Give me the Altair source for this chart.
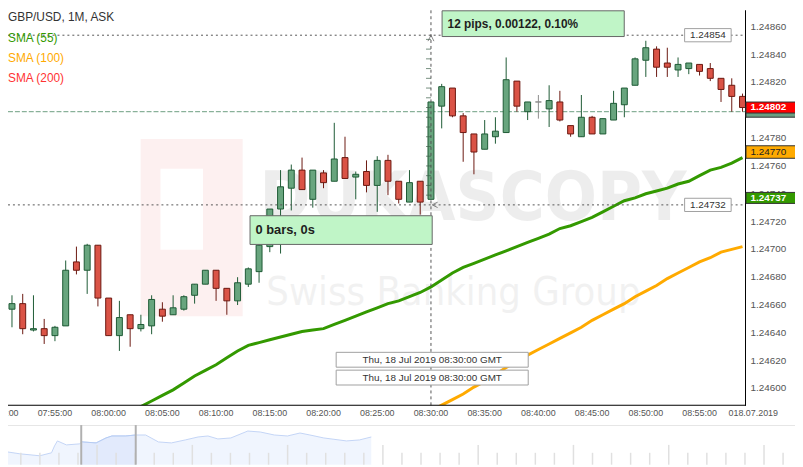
import altair as alt
import numpy as np
import pandas as pd

# ---------------- data ----------------
SYMBOL = "GBP/USD, 1M, ASK"
legend_labels = ["SMA (55)", "SMA (100)", "SMA (200)"]
watermark = ["DUKASCOPY", "Swiss Banking Group"]

times = ["07:51", "07:52", "07:53", "07:54", "07:55", "07:56", "07:57", "07:58", "07:59",
         "08:00", "08:01", "08:02", "08:03", "08:04", "08:05", "08:06", "08:07", "08:08", "08:09",
         "08:10", "08:11", "08:12", "08:13", "08:14", "08:15", "08:16", "08:17", "08:18", "08:19",
         "08:20", "08:21", "08:22", "08:23", "08:24", "08:25", "08:26", "08:27", "08:28", "08:29",
         "08:30", "08:31", "08:32", "08:33", "08:34", "08:35", "08:36", "08:37", "08:38", "08:39",
         "08:40", "08:41", "08:42", "08:43", "08:44", "08:45", "08:46", "08:47", "08:48", "08:49",
         "08:50", "08:51", "08:52", "08:53", "08:54", "08:55", "08:56", "08:57", "08:58", "08:59"]

opens = [1.24657, 1.24661, 1.24642, 1.24643, 1.24638, 1.24645, 1.24691, 1.24685, 1.24703,
         1.24665, 1.24638, 1.24653, 1.24643, 1.24645, 1.24657, 1.24653, 1.24657, 1.24667, 1.24675,
         1.24685, 1.24672, 1.24663, 1.24675, 1.24684, 1.24702, 1.24729, 1.24744, 1.24757, 1.24736,
         1.24755, 1.24749, 1.24766, 1.24752, 1.24756, 1.24746, 1.24764, 1.24749, 1.24734, 1.24749,
         1.24736, 1.24803, 1.24816, 1.24796, 1.24783, 1.24772, 1.24781, 1.24784, 1.24821, 1.24799,
         1.24806, 1.24801, 1.24806, 1.24789, 1.24781, 1.24795, 1.24783, 1.24793, 1.24804, 1.24818,
         1.24836, 1.24844, 1.24834, 1.24829, 1.24830, 1.24833, 1.24830, 1.24823, 1.24818, 1.24810]
highs = [1.24667, 1.24668, 1.24667, 1.24650, 1.24645, 1.24692, 1.24702, 1.24704, 1.24703,
         1.24665, 1.24663, 1.24653, 1.24653, 1.24667, 1.24662, 1.24667, 1.24667, 1.24675, 1.24685,
         1.24685, 1.24672, 1.24680, 1.24687, 1.24704, 1.24729, 1.24757, 1.24761, 1.24766, 1.24757,
         1.24757, 1.24791, 1.24781, 1.24756, 1.24764, 1.24767, 1.24768, 1.24749, 1.24757, 1.24749,
         1.24806, 1.24819, 1.24816, 1.24798, 1.24783, 1.24793, 1.24795, 1.24838, 1.24821, 1.24806,
         1.24811, 1.24818, 1.24814, 1.24789, 1.24811, 1.24796, 1.24794, 1.24814, 1.24816, 1.24838,
         1.24850, 1.24846, 1.24845, 1.24838, 1.24834, 1.24833, 1.24834, 1.24823, 1.24823, 1.24812]
lows = [1.24644, 1.24639, 1.24641, 1.24632, 1.24634, 1.24645, 1.24682, 1.24668, 1.24659,
        1.24638, 1.24627, 1.24630, 1.24641, 1.24639, 1.24648, 1.24653, 1.24656, 1.24661, 1.24675,
        1.24663, 1.24653, 1.24660, 1.24673, 1.24676, 1.24698, 1.24697, 1.24728, 1.24743, 1.24730,
        1.24744, 1.24749, 1.24751, 1.24736, 1.24741, 1.24727, 1.24739, 1.24733, 1.24734, 1.24725,
        1.24736, 1.24787, 1.24795, 1.24763, 1.24754, 1.24772, 1.24776, 1.24784, 1.24799, 1.24793,
        1.24794, 1.24788, 1.24792, 1.24781, 1.24781, 1.24783, 1.24783, 1.24793, 1.24795, 1.24818,
        1.24824, 1.24824, 1.24824, 1.24824, 1.24826, 1.24825, 1.24821, 1.24806, 1.24799, 1.24799]
closes = [1.24661, 1.24643, 1.24643, 1.24638, 1.24644, 1.24685, 1.24685, 1.24703, 1.24665,
          1.24638, 1.24651, 1.24643, 1.24646, 1.24664, 1.24652, 1.24658, 1.24666, 1.24675, 1.24685,
          1.24672, 1.24663, 1.24676, 1.24686, 1.24703, 1.24729, 1.24745, 1.24757, 1.24743, 1.24757,
          1.24748, 1.24765, 1.24751, 1.24754, 1.24746, 1.24764, 1.24749, 1.24736, 1.24748, 1.24734,
          1.24806, 1.24817, 1.24796, 1.24784, 1.24770, 1.24783, 1.24785, 1.24822, 1.24803, 1.24806,
          1.24806, 1.24807, 1.24793, 1.24783, 1.24795, 1.24783, 1.24794, 1.24805, 1.24816, 1.24837,
          1.24845, 1.24831, 1.24831, 1.24833, 1.24834, 1.24828, 1.24823, 1.24815, 1.24810, 1.24802]

# SMA values aligned with `times` (None = not visible / off the chart)
sma55 = [None] * 11 + [
    1.24583, 1.24587, 1.24591, 1.24595, 1.24599, 1.24604, 1.24609, 1.24613,
    1.24617, 1.24622, 1.24627, 1.24631, 1.24633, 1.24635, 1.24637, 1.24639, 1.24641, 1.24642,
    1.24643, 1.24646, 1.24649, 1.24652, 1.24655, 1.24658, 1.24661, 1.24663, 1.24666, 1.24669,
    1.24673, 1.24678, 1.24683, 1.24687, 1.24690, 1.24693, 1.24696, 1.24699, 1.24702, 1.24705,
    1.24708, 1.24711, 1.24715, 1.24717, 1.24720, 1.24723, 1.24727, 1.24731, 1.24735, 1.24737,
    1.24740, 1.24742, 1.24744, 1.24747, 1.24749, 1.24753, 1.24757, 1.24759, 1.24762, 1.24766]
sma100 = [None] * 39 + [
    1.24584, 1.24588, 1.24592, 1.24596, 1.24601, 1.24605, 1.24610, 1.24615, 1.24620, 1.24624,
    1.24628, 1.24632, 1.24636, 1.24640, 1.24644, 1.24649, 1.24653, 1.24657, 1.24661, 1.24666,
    1.24670, 1.24674, 1.24679, 1.24683, 1.24687, 1.24691, 1.24694, 1.24698, 1.24700, 1.24702]

y_ticks = [1.24600, 1.24620, 1.24640, 1.24660, 1.24680, 1.24700, 1.24720,
           1.24740, 1.24760, 1.24780, 1.24800, 1.24820, 1.24840, 1.24860]
x_ticks = ["07:50", "07:55", "08:00", "08:05", "08:10", "08:15", "08:20", "08:25",
           "08:30", "08:35", "08:40", "08:45", "08:50", "08:55", "09:00"]
x_tick_labels = ["07:50:00", "07:55:00", "08:00:00", "08:05:00", "08:10:00", "08:15:00",
                 "08:20:00", "08:25:00", "08:30:00", "08:35:00", "08:40:00", "08:45:00",
                 "08:50:00", "08:55:00", "018.07.2019"]

ask_price = 1.24802
bid_price = 1.24799
sma100_tag = 1.24770
sma55_tag = 1.24737
measure_lo = 1.24732
measure_hi = 1.24854
measure_text = "12 pips, 0.00122, 0.10%"
bars_text = "0 bars, 0s"
cursor_time = "08:30"
cursor_text = "Thu, 18 Jul 2019 08:30:00 GMT"

# navigator (overview strip): position in navigator tick units, level
nav_x = [-0.09, 0.95, 1.99, 2.61, 2.77, 2.92, 3.39, 4.07, 4.22, 4.95, 5.47, 5.78, 6.51, 7.03,
         7.55, 8.22, 8.90, 9.63, 10.30, 10.82, 11.34, 12.02, 12.91, 13.57, 14.30, 14.99,
         15.65, 16.17, 16.90, 18.09, 18.77, 19.39]
nav_v = [14, 11, 9, 12, 19, 24, 20, 21, 23, 22, 27, 29, 29, 30, 30, 23, 22, 25, 28, 29, 26,
         27, 34, 33, 30, 29, 32, 30, 27, 24, 25, 28]
nav_sel_x = [4.17, 4.22, 4.95, 5.47, 5.78, 6.51, 7.03]
nav_sel_v = [22.5, 23, 22, 27, 29, 29, 30]
nav_handles = [4.17, 7.03]
nav_ticks = list(range(0, 42))

# ---------------- layout / styling ----------------
W, H = 745, 399
X_DOM = [-8.909, 58.818]
Y_DOM = [1.245879, 1.248719]
xs = alt.Scale(domain=X_DOM, nice=False, zero=False)
ys = alt.Scale(domain=Y_DOM, nice=False, zero=False)
FONT = "Liberation Sans"
NARROW = "'Liberation Sans Narrow', 'DejaVu Sans Condensed', 'Liberation Sans'"
NAV_X0, NAV_DX, NAV_BASE = 0.327, 19.25, 459


def tmin(s):
    h, m = s.split(":")
    return (int(h) - 8) * 60 + int(m)


def one(**cols):
    return pd.DataFrame({k: [v] for k, v in cols.items()})


def pix_rect(x1, x2, y1, y2, **mk):
    return alt.Chart(one(a=0)).mark_rect(**mk).encode(
        x=alt.value(x1), x2=alt.value(x2), y=alt.value(y1), y2=alt.value(y2))


def pix_text(s, x, y, **mk):
    return alt.Chart(one(s=s)).mark_text(font=FONT, **mk).encode(
        x=alt.value(x), y=alt.value(y), text="s:N")


def price_box(p, half, x1, x2, **mk):
    return alt.Chart(one(lo=p - half, hi=p + half)).mark_rect(**mk).encode(
        x=alt.value(x1), x2=alt.value(x2),
        y=alt.Y("lo:Q", scale=ys, axis=None), y2="hi:Q")


def price_text(s, p, x, **mk):
    return alt.Chart(one(s=s, p=p)).mark_text(font=FONT, baseline="middle", **mk).encode(
        x=alt.value(x), y=alt.Y("p:Q", scale=ys, axis=None), text="s:N")


X = lambda f="t", axis=None: alt.X(f"{f}:Q", scale=xs, axis=axis)
Y = lambda f, axis=None: alt.Y(f"{f}:Q", scale=ys, axis=axis)

# grid only from the axes; labels and frame are drawn as marks below
x_grid = alt.Axis(values=[tmin(s) for s in x_ticks], grid=True, gridColor="#e6e6e6",
                  labels=False, ticks=False, domain=False, title=None)
y_grid = alt.Axis(orient="right", values=y_ticks, grid=True, gridColor="#e6e6e6",
                  labels=False, ticks=False, domain=False, title=None)

# ---------------- tables ----------------
candles = pd.DataFrame({"t": [tmin(s) for s in times], "o": opens, "h": highs,
                        "l": lows, "c": closes})
candles["dir"] = np.where(candles.c > candles.o, "up",
                          np.where(candles.c < candles.o, "down", "flat"))
sma_df = pd.DataFrame({"t": [tmin(s) for s in times], "s55": sma55, "s100": sma100})
s55 = sma_df.dropna(subset=["s55"])
s100 = sma_df.dropna(subset=["s100"])
ylab_df = pd.DataFrame({"p": y_ticks, "s": [f"{v:.5f}" for v in y_ticks]})
xlab_df = pd.DataFrame({"t": [tmin(s) for s in x_ticks], "s": x_tick_labels})

DIRS = ["up", "down", "flat"]
fill_scale = alt.Scale(domain=DIRS, range=["#68a57e", "#da5346", "#8c8c8c"])
stroke_scale = alt.Scale(domain=DIRS, range=["#1d5a35", "#6b1810", "#8c8c8c"])

# ---------------- layers ----------------
layers = []

cbase = alt.Chart(candles)
candle_wicks = cbase.mark_rule(strokeWidth=1, clip=True).encode(
    x=X("t", x_grid), y=Y("l", y_grid), y2="h:Q",
    stroke=alt.Stroke("dir:N", scale=stroke_scale, legend=None))
candle_bodies = cbase.mark_bar(size=6, strokeWidth=1, clip=True).encode(
    x=X("t"), y=Y("o"), y2="c:Q",
    fill=alt.Fill("dir:N", scale=fill_scale, legend=None),
    stroke=alt.Stroke("dir:N", scale=stroke_scale, legend=None))

# faint watermark
PINK = dict(fill="#e83030", opacity=0.07, strokeWidth=0)
layers += [pix_rect(134, 154, 130, 309, **PINK), pix_rect(197, 237, 130, 309, **PINK),
           pix_rect(154, 197, 130, 160, **PINK), pix_rect(154, 197, 242, 309, **PINK)]
layers.append(alt.Chart(one(s=watermark[0])).mark_text(
    font=NARROW, fontSize=69, fontWeight="bold", align="left", baseline="alphabetic",
    color="#000000", opacity=0.065).encode(x=alt.value(254), y=alt.value(212), text="s:N"))
layers.append(alt.Chart(one(s=watermark[1])).mark_text(
    font=NARROW, fontSize=40, align="left", baseline="alphabetic",
    color="#000000", opacity=0.05).encode(x=alt.value(261), y=alt.value(298), text="s:N"))

# bid dashed line
layers.append(alt.Chart(one(p=bid_price)).mark_rule(
    color="#6b9e80", strokeDash=[5, 2], strokeWidth=1).encode(
    y=Y("p"), x=alt.value(0), x2=alt.value(W)))

# moving averages
layers.append(alt.Chart(s55).mark_line(color="#339900", strokeWidth=3, clip=True).encode(
    x=X("t"), y=Y("s55")))
layers.append(alt.Chart(s100).mark_line(color="#ffaa00", strokeWidth=3, clip=True).encode(
    x=X("t"), y=Y("s100")))

layers += [candle_wicks, candle_bodies]

# measurement tool: dotted levels, cursor line, ruler
layers.append(alt.Chart(pd.DataFrame({"p": [measure_hi, measure_lo]})).mark_rule(
    color="#555555", strokeDash=[2, 3], strokeWidth=1).encode(
    y=Y("p"), x=alt.value(0), x2=alt.value(W)))
layers.append(alt.Chart(one(t=tmin(cursor_time))).mark_rule(
    color="#555555", strokeDash=[3, 3], strokeWidth=1).encode(
    x=X("t"), y=alt.value(0), y2=alt.value(H)))
ruler = pd.DataFrame({"t": tmin(cursor_time),
                      "p": np.arange(measure_lo + 0.00007, measure_hi - 0.00003, 0.00007)})
layers.append(alt.Chart(ruler).mark_tick(orient="horizontal", size=5, thickness=1,
                                         color="#3b5e47", xOffset=-2.5).encode(
    x=X("t"), y=Y("p")))
layers.append(alt.Chart(one(t=tmin(cursor_time), p=measure_hi)).mark_point(
    shape="M-1,1L0,-1L1,1", filled=False, size=36, stroke="#555555", strokeWidth=1,
    yOffset=3).encode(x=X("t"), y=Y("p")))
layers.append(alt.Chart(one(t=tmin(cursor_time), p=measure_lo)).mark_point(
    shape="M1,-1L-1,0L1,1", filled=False, size=30, stroke="#555555", strokeWidth=1,
    xOffset=4).encode(x=X("t"), y=Y("p")))

# axis frame (right and bottom) and axis labels
layers.append(pix_rect(744.5, 745.5, 0, H + 0.5, fill="#000000", strokeWidth=0))
layers.append(pix_rect(0, 745.5, H - 0.5, H + 0.5, fill="#000000", strokeWidth=0))
layers.append(alt.Chart(ylab_df).mark_text(
    font=FONT, fontSize=10, color="#555555", align="left", baseline="middle").encode(
    x=alt.value(750), y=Y("p"), text="s:N"))
layers.append(alt.Chart(xlab_df).mark_text(
    font=FONT, fontSize=9, color="#555555", align="center", baseline="top").encode(
    x=X("t"), y=alt.value(H + 4), text="s:N"))

# measurement boxes
GREENBOX = dict(fill="#c0f5c7", stroke="#666666", strokeWidth=1)
layers.append(pix_rect(438.5, 622.5, 0.5, 26.5, **GREENBOX))
layers.append(pix_text(measure_text, 444, 13.5, align="left", baseline="middle",
                       fontSize=12, fontWeight="bold", color="#1e1e1e"))
layers.append(pix_rect(244.5, 428.5, 207.5, 236.5, **GREENBOX))
layers.append(pix_text(bars_text, 250, 222, align="left", baseline="middle",
                       fontSize=13, fontWeight="bold", color="#1e1e1e"))

# cursor time boxes
WHITEBOX = dict(fill="#ffffff", stroke="#a0a0a0", strokeWidth=1)
for y1, y2 in [(345.5, 360.5), (363.5, 378.5)]:
    layers.append(pix_rect(331.5, 525.5, y1, y2, **WHITEBOX))
    layers.append(pix_text(cursor_text, 428.5, (y1 + y2) / 2, align="center",
                           baseline="middle", fontSize=10, color="#333333"))

# floating price labels of the measurement
for p in [measure_hi, measure_lo]:
    layers.append(price_box(p, 0.0000475, 683.5, 730.5, **WHITEBOX))
    layers.append(price_text(f"{p:.5f}", p, 707, align="center", fontSize=10, color="#333333"))

# right-axis price tags (drawn over the axis labels)
layers.append(price_box(bid_price, 0.0000395, 745.5, 796, fill="#6b9e80", stroke="#333333",
                        strokeWidth=1))
tags = [(ask_price, "#ff0000", "#ffffff", "bold", 0.0000395),
        (sma100_tag, "#ffaa00", "#222222", "normal", 0.000045),
        (sma55_tag, "#339900", "#ffffff", "bold", 0.0000395)]
for p, fill, tcol, wt, half in tags:
    layers.append(price_box(p, half, 745.5, 796, fill=fill, stroke="#333333", strokeWidth=1))
    layers.append(price_text(f"{p:.5f}", p, 750, align="left", fontSize=10, fontWeight=wt,
                             color=tcol))

# legend
layers.append(pix_text(SYMBOL, 0, 7, align="left", baseline="middle", fontSize=12,
                       color="#333333"))
for lab, col, yy in zip(legend_labels, ["#339900", "#ffaa00", "#ff3333"], [28, 48, 68]):
    layers.append(pix_text(lab, 0, yy, align="left", baseline="middle", fontSize=12, color=col))


# ---------------- navigator strip (pixel-mapped via calculate) ----------------
def nav_chart(df):
    return alt.Chart(df).transform_calculate(
        px=f"(datum.i - {NAV_X0}) * {NAV_DX}",
        py=f"{NAV_BASE} - datum.v",
        pb=f"{NAV_BASE}")


NXp = alt.X("px:Q", scale=None, axis=None)
NYp = alt.Y("py:Q", scale=None, axis=None)

nav_df = pd.DataFrame({"i": nav_x, "v": nav_v})
sel_df = pd.DataFrame({"i": nav_sel_x, "v": nav_sel_v})
tick_df = pd.DataFrame({"i": nav_ticks})
tick_df["v"] = np.where((tick_df.i % 5 == 0) & (tick_df.i > 0), 20, 12)
handle_df = pd.DataFrame({"i": nav_handles, "v": 40})

layers.append(pix_rect(0, 795, 419, 419.8, fill="#e6e6e6", strokeWidth=0))
layers.append(nav_chart(nav_df).mark_area(
    color="#eaf1fd", line={"color": "#c3d5f6", "strokeWidth": 1}).encode(
    x=NXp, y=NYp, y2="pb:Q"))
layers.append(nav_chart(sel_df).mark_area(
    color="#dbe6fb", line={"color": "#b5cbf3", "strokeWidth": 1}).encode(
    x=NXp, y=NYp, y2="pb:Q"))
layers.append(nav_chart(tick_df).mark_rule(color="#e0e0e0", strokeWidth=1.5).encode(
    x=NXp, y=NYp, y2="pb:Q"))
layers.append(nav_chart(handle_df).mark_rule(color="#b0b0b0", strokeWidth=2).encode(
    x=NXp, y=NYp, y2="pb:Q"))

chart = alt.layer(*layers).properties(
    width=W, height=H,
    padding={"left": 0, "top": 0, "right": 50, "bottom": 60},
    autosize=alt.AutoSizeParams(type="none"),
).configure(font=FONT).configure_view(strokeWidth=0)

chart.save("out.html", embed_options={"renderer": "svg", "actions": False})
